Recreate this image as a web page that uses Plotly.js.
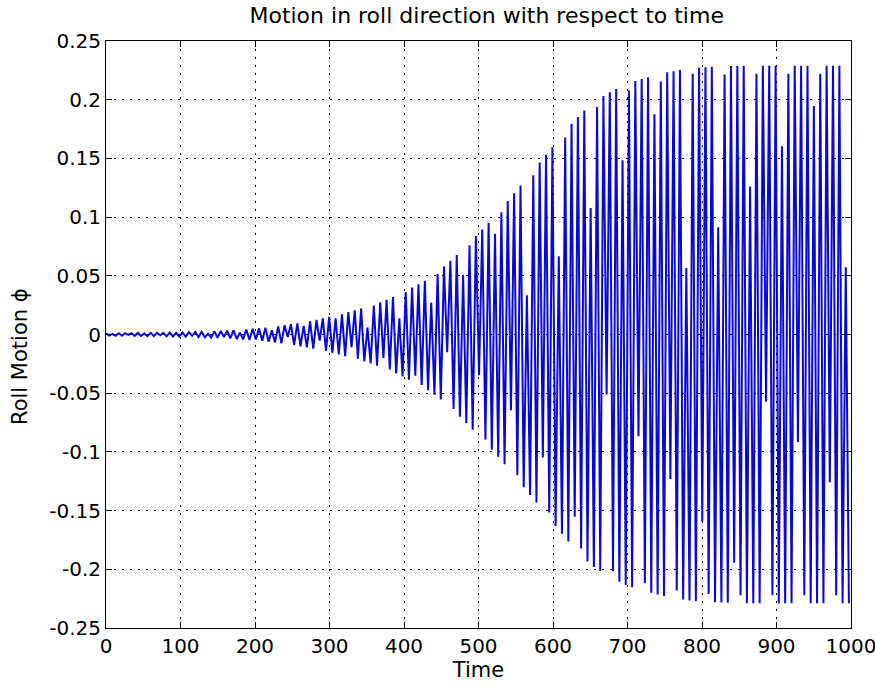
<!DOCTYPE html>
<html>
<head>
<meta charset="utf-8">
<script src="https://cdn.plot.ly/plotly-3.0.1.min.js"></script>
<style>
html,body{margin:0;padding:0;background:#fff;}
#chart{width:875px;height:694px;}
</style>
</head>
<body>
<div id="chart"></div>
<script>
const timeStart = 0;
const timeStep = 4.28;
const rollMotion = [
0.001,-0.001,0.00055,-0.0011,0.00107,-0.0011,0.0012,-0.0003,0.0012,-0.00116,
0.0013,-0.0013,0.00091,-0.0014,0.00136,-0.0014,0.0015,-0.0006,0.0015,-0.00155,
0.0016,-0.0017,0.00145,-0.0018,0.00175,-0.0019,0.002,-0.0011,0.0021,-0.00213,
0.0023,-0.0024,0.00063,-0.0026,0.00262,-0.0028,0.003,-0.00217,0.0033,-0.0033,
0.0036,-0.0038,0.0016,-0.0042,0.00427,-0.0046,0.0048,-0.00417,0.0052,-0.00534,
0.0058,-0.0061,0.00352,-0.0067,0.00689,-0.0075,0.0079,-0.00208,0.0087,-0.00883,
0.0095,-0.01,0.00735,-0.011,0.01116,-0.012,0.0125,-0.00524,0.0137,-0.01387,
0.015,-0.0156,0.01386,-0.017,0.01717,-0.0184,0.0191,-0.01089,0.0205,-0.02066,
0.0221,-0.0229,0.00593,-0.0246,0.02474,-0.0265,0.0275,-0.01995,0.0295,-0.02978,
0.0319,-0.0331,0.01376,-0.0357,0.03608,-0.0386,0.04,-0.03519,0.0428,-0.04297,
0.0458,-0.0475,0.02712,-0.0512,0.0516,-0.0553,0.0578,-0.01508,0.0628,-0.06334,
0.0677,-0.0701,0.05096,-0.0755,0.07595,-0.0811,0.0838,-0.0346,0.0894,-0.08953,
0.0952,-0.0981,0.08585,-0.1041,0.10408,-0.1106,0.1138,-0.06441,0.1203,-0.11989,
0.1269,-0.1301,0.03335,-0.1366,0.1357,-0.1431,0.1464,-0.10479,0.153,-0.15171,
0.1598,-0.1632,0.0666,-0.1697,0.16781,-0.1763,0.1796,-0.15521,0.1853,-0.18236,
0.1907,-0.1934,0.1078,-0.198,0.19371,-0.2014,0.2031,-0.0512,0.2063,-0.20157,
0.2092,-0.2106,0.1484,-0.2133,0.20787,-0.2152,0.216,-0.08672,0.2176,-0.21185,
0.2192,-0.22,0.1876,-0.2214,0.21544,-0.2228,0.2233,-0.12309,0.2243,-0.21806,
0.2253,-0.2258,0.05655,-0.2265,0.222,-0.2271,0.2273,-0.15925,0.2277,-0.22106,
0.228,-0.2281,0.09128,-0.2283,0.22155,-0.2285,0.2286,-0.1944,0.2288,-0.22203,
0.229,-0.229,0.12595,-0.229,0.22213,-0.229,0.229,-0.05725,0.229,-0.22213,
0.229,-0.229,0.1603,-0.229,0.22213,-0.229,0.229,-0.0916,0.229,-0.22213,
0.229,-0.229,0.19465,-0.229,0.22213,-0.229,0.229,-0.12595,0.229,-0.22213,
0.229,-0.229,0.05725,-0.229
];
const xTickVals = [0,100,200,300,400,500,600,700,800,900,1000];
const xTickText = ["0","100","200","300","400","500","600","700","800","900","1000"];
const yTickVals = [-0.25,-0.2,-0.15,-0.1,-0.05,0,0.05,0.1,0.15,0.2,0.25];
const yTickText = ["-0.25","-0.2","-0.15","-0.1","-0.05","0","0.05","0.1","0.15","0.2","0.25"];
const chartTitle = "Motion in roll direction with respect to time";
const xTitle = "Time";
const yTitle = "Roll Motion \u03d5";

const FONT = "'DejaVu Sans', sans-serif";

const trace = {
  type: "scatter", mode: "lines",
  x0: timeStart, dx: timeStep,
  y: rollMotion,
  line: {color: "#0808d8", width: 2.0, simplify: false},
  hoverinfo: "skip"
};

const axisCommon = {
  showline: true, linecolor: "#000", linewidth: 1, mirror: "ticks",
  ticks: "inside", ticklen: 6, tickcolor: "#000", tickwidth: 1,
  showgrid: true, gridcolor: "#000", gridwidth: 1, griddash: "2px,6px",
  zeroline: false, tickmode: "array", ticklabeloverflow: "allow",
  tickfont: {family: FONT, size: 20, color: "#000"}
};

const layout = {
  width: 875, height: 694,
  margin: {l: 106, r: 24, t: 41, b: 66},
  paper_bgcolor: "#fff", plot_bgcolor: "#fff",
  showlegend: false,
  title: {text: chartTitle, font: {family: FONT, size: 22, color: "#000"},
          xref: "paper", x: 0.511, xanchor: "center", yref: "container", y: 1 - 15/694, yanchor: "middle"},
  xaxis: Object.assign({}, axisCommon, {range: [0, 1000], tickvals: xTickVals, ticktext: xTickText,
          title: {text: xTitle, font: {family: FONT, size: 21, color: "#000"}, standoff: 3}}),
  yaxis: Object.assign({}, axisCommon, {range: [-0.25, 0.25], tickvals: yTickVals, ticktext: yTickText}),
  annotations: [{
    text: yTitle, textangle: -90, xref: "paper", yref: "paper",
    x: -86/745, y: (628-357)/587, xanchor: "center", yanchor: "middle", showarrow: false,
    font: {family: FONT, size: 21, color: "#000"}
  }]
};

Plotly.newPlot("chart", [trace], layout, {staticPlot: true, displayModeBar: false});
</script>
</body>
</html>
